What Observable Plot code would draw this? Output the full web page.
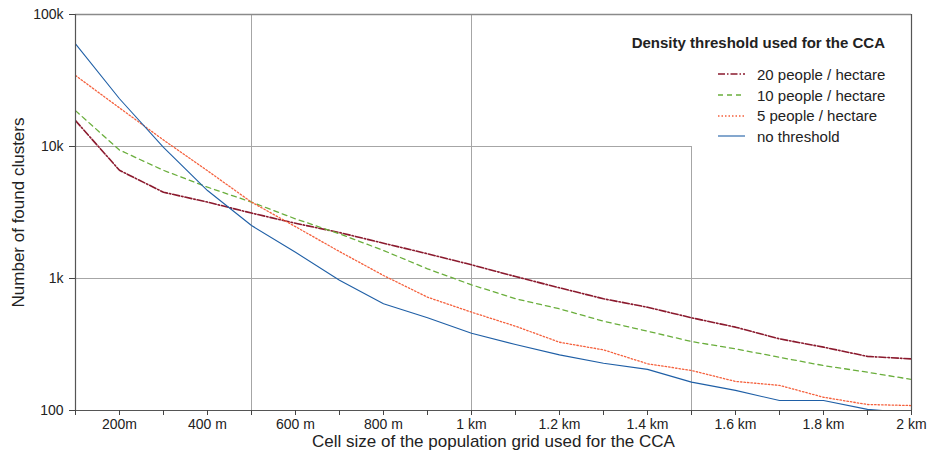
<!DOCTYPE html>
<html>
<head>
<meta charset="utf-8">
<script src="https://cdn.jsdelivr.net/npm/d3@7"></script>
<script src="https://cdn.jsdelivr.net/npm/@observablehq/plot@0.6"></script>
<style>
  body { margin: 0; background: #fff; }
  #wrap { position: relative; width: 931px; height: 464px; font-family: "Liberation Sans", Arial, sans-serif; color: #222; }
  #legend { position: absolute; left: 580px; top: 34px; width: 305px; }
  #legend .title { font-weight: bold; font-size: 15px; line-height: 18px; text-align: right; margin-bottom: 12px; white-space: nowrap; }
  #legend .row { display: flex; align-items: center; height: 20.7px; font-size: 15px; padding-left: 138px; white-space: nowrap; }
  #legend svg { margin-right: 12px; flex: none; }
  g[aria-label="x-axis label"] text, g[aria-label="y-axis label"] text { font-size: 17px; }
</style>
</head>
<body>
<div id="wrap"><div id="legend"></div></div>
<script>
// Cell sizes (m)
const cellSizes = [100,200,300,400,500,600,700,800,900,1000,1100,1200,1300,1400,1500,1600,1700,1800,1900,2000];
// Number of found clusters per density threshold
const people20 = [15700,6600,4500,3790,3130,2620,2230,1850,1540,1270,1035,850,702,606,504,428,349,302,257,246];
const people10 = [18700,9400,6600,4920,3790,2830,2180,1630,1184,896,702,589,475,399,333,293,253,219,195,172];
const people5  = [34500,19600,11200,6550,3790,2470,1600,1054,722,556,435,329,288,226,201,166,155,126,111,109];
const noThresh = [60000,23000,9850,4640,2520,1580,970,643,504,385,316,264,228,205,164,142,119,119,102,96];

const seriesNames = ["20 people / hectare","10 people / hectare","5 people / hectare","no threshold"];
const seriesValues = [people20, people10, people5, noThresh];
const seriesColors = ["#8b1a2e","#6aae3c","#f5603c","#1f5fa6"];
const seriesDash = ["7,2,1.5,2","5,4","1.5,2","none"];
const seriesWidth = [1.6,1.3,1.3,1.1];

const xTickValues = d3.range(100, 2001, 100);
const xTickLabels = {200:"200m",400:"400 m",600:"600 m",800:"800 m",1000:"1 km",1200:"1.2 km",1400:"1.4 km",1600:"1.6 km",1800:"1.8 km",2000:"2 km"};
const yTickValues = [100, 1000, 10000, 100000];
const yTickLabels = {100:"100",1000:"1k",10000:"10k",100000:"100k"};

// grid lines
const gridXFull = [500, 1000];
const gridXPartial = [{x:1500, y1:100, y2:10000}];
const gridYFull = [1000];
const gridYPartial = [{y:10000, x1:100, x2:1500}];

const rows = [];
seriesNames.forEach((name, i) => {
  seriesValues[i].forEach((v, j) => rows.push({series: name, size: cellSizes[j], count: v}));
});

const gridColor = "#a6a6a6";
const marks = [
  Plot.ruleX(gridXFull, {stroke: gridColor, strokeWidth: 1}),
  Plot.ruleX(gridXPartial, {x: "x", y1: "y1", y2: "y2", stroke: gridColor, strokeWidth: 1}),
  Plot.ruleY(gridYFull, {stroke: gridColor, strokeWidth: 1}),
  Plot.ruleY(gridYPartial, {y: "y", x1: "x1", x2: "x2", stroke: gridColor, strokeWidth: 1}),
  Plot.ruleY([100000], {stroke: "#8a8a8a", strokeWidth: 1.3}),
  Plot.ruleX([2000], {stroke: "#555", strokeWidth: 1.2}),
];
seriesNames.forEach((name, i) => {
  marks.push(Plot.line(rows.filter(r => r.series === name), {
    x: "size", y: "count", stroke: seriesColors[i], strokeWidth: seriesWidth[i],
    strokeDasharray: seriesDash[i], clip: true
  }));
});
marks.push(
  Plot.ruleX([100], {stroke: "#555", strokeWidth: 1.2}),
  Plot.ruleY([100], {stroke: "#555", strokeWidth: 1.2}),
  Plot.axisX({ticks: xTickValues, tickFormat: d => xTickLabels[d] || "", tickSize: 5, tickPadding: 4, stroke: "#444", fill: "#222",
    label: "Cell size of the population grid used for the CCA", labelAnchor: "center", labelOffset: 36, labelArrow: "none"}),
  Plot.axisY({ticks: yTickValues, tickFormat: d => yTickLabels[d], tickSize: 6, tickPadding: 6, stroke: "#444", fill: "#222",
    label: "Number of found clusters", labelAnchor: "center", labelOffset: 64, labelArrow: "none"})
);

const chart = Plot.plot({
  width: 931, height: 464,
  marginLeft: 75, marginRight: 20, marginTop: 14, marginBottom: 54,
  x: {domain: [100, 2000]},
  y: {type: "log", domain: [100, 100000]},
  style: {fontFamily: "'Liberation Sans', Arial, sans-serif", fontSize: "14px", color: "#222", background: "#fff"},
  marks
});
document.getElementById("wrap").prepend(chart);

// legend
const legend = document.getElementById("legend");
const t = document.createElement("div");
t.className = "title";
t.textContent = "Density threshold used for the CCA";
legend.appendChild(t);
seriesNames.forEach((name, i) => {
  const row = document.createElement("div");
  row.className = "row";
  const svg = d3.create("svg").attr("width", 27).attr("height", 6);
  svg.append("line").attr("x1", 0).attr("x2", 27).attr("y1", 3).attr("y2", 3)
    .attr("stroke", seriesColors[i]).attr("stroke-width", seriesWidth[i])
    .attr("stroke-dasharray", seriesDash[i]);
  row.appendChild(svg.node());
  const span = document.createElement("span");
  span.textContent = name;
  row.appendChild(span);
  legend.appendChild(row);
});
</script>
</body>
</html>
